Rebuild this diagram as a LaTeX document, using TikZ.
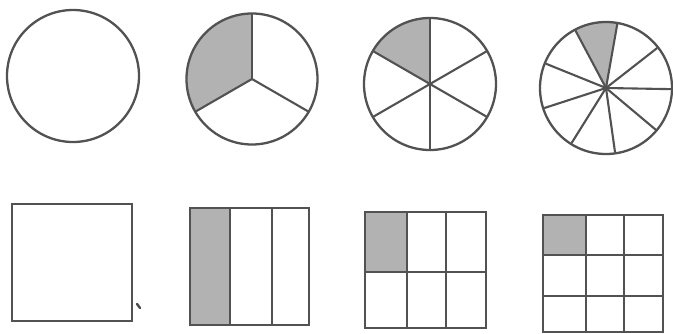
\documentclass[tikz,border=0pt]{standalone}
\begin{document}
\begin{tikzpicture}[x=1pt,y=-1pt,
  outline/.style={draw=black!68,line width=2.3pt},
  spoke/.style={draw=black!68,line width=2.1pt},
  shade/.style={fill=black!30}]
\useasboundingbox (0,0) rectangle (673,334);
% circle 1
\draw[outline] (73,76) circle[radius=66];
% circle 2 : thirds
\begin{scope}[shift={(252,79)}]
  \fill[shade] (0,0) -- ({65.5*cos(90)},{-65.5*sin(90)}) arc[start angle=-90,end angle=-210,radius=65.5] -- cycle;
  \foreach \a in {90,210,330} \draw[spoke] (0,0) -- ({65.5*cos(\a)},{-65.5*sin(\a)});
  \draw[outline] (0,0) circle[radius=65.5];
\end{scope}
% circle 3 : sixths
\begin{scope}[shift={(430,84)}]
  \fill[shade] (0,0) -- ({66*cos(90)},{-66*sin(90)}) arc[start angle=-90,end angle=-150,radius=66] -- cycle;
  \foreach \a in {30,90,...,330} \draw[spoke] (0,0) -- ({66*cos(\a)},{-66*sin(\a)});
  \draw[outline] (0,0) circle[radius=66];
\end{scope}
% circle 4 : ninths
\begin{scope}[shift={(606,88)}]
  \fill[shade] (0,0) -- ({66*cos(80)},{-66*sin(80)}) arc[start angle=-80,end angle=-118,radius=66] -- cycle;
  \foreach \a in {80,118,158,198,238,278,320,359,38} \draw[spoke] (0,0) -- ({65*cos(\a)},{-65*sin(\a)});
  \draw[outline] (0,0) circle[radius=66];
\end{scope}
% square 1
\draw[outline] (12,204) rectangle (132,321);
\draw[black!70,line width=2.4pt,line cap=round] (137,304) -- (140,308);
% square 2 : three strips
\fill[shade] (190,208) rectangle (230,325);
\draw[spoke] (230,208) -- (230,325);
\draw[spoke] (272,208) -- (272,325);
\draw[outline] (190,208) rectangle (309,325);
% square 3 : 2x3
\fill[shade] (365,212) rectangle (407,272);
\draw[spoke] (407,212) -- (407,328);
\draw[spoke] (446,212) -- (446,328);
\draw[spoke] (365,272) -- (486,272);
\draw[outline] (365,212) rectangle (486,328);
% square 4 : 3x3
\fill[shade] (543,215) rectangle (586,255);
\draw[spoke] (586,215) -- (586,332);
\draw[spoke] (624,215) -- (624,332);
\draw[spoke] (543,255) -- (663,255);
\draw[spoke] (543,296) -- (663,296);
\draw[outline] (543,215) rectangle (663,332);
\end{tikzpicture}
\end{document}
